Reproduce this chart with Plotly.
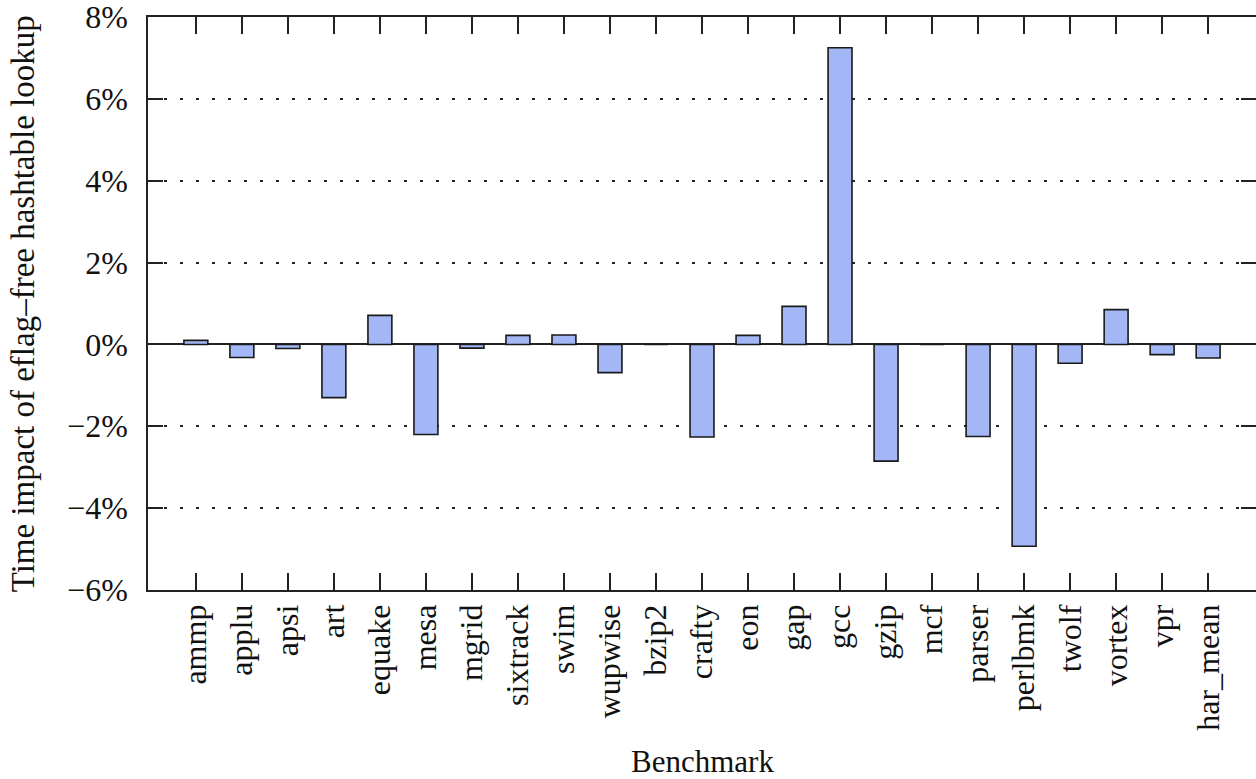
import plotly.graph_objects as go

# Benchmarks and their measured time impact (percent)
benchmarks = ["ammp", "applu", "apsi", "art", "equake", "mesa", "mgrid",
              "sixtrack", "swim", "wupwise", "bzip2", "crafty", "eon", "gap",
              "gcc", "gzip", "mcf", "parser", "perlbmk", "twolf", "vortex",
              "vpr", "har_mean"]
impact_pct = [0.10, -0.32, -0.10, -1.30, 0.71, -2.20, -0.09,
              0.22, 0.23, -0.69, 0.0, -2.26, 0.22, 0.93,
              7.25, -2.85, 0.0, -2.25, -4.93, -0.46, 0.85,
              -0.25, -0.33]
y_tick_values = [-6, -4, -2, 0, 2, 4, 6, 8]
y_tick_labels = ["\u22126%", "\u22124%", "\u22122%", "0%", "2%", "4%", "6%", "8%"]

FONT = "Liberation Serif, Times New Roman, serif"

fig = go.Figure(
    go.Bar(
        x=benchmarks,
        y=impact_pct,
        marker=dict(color="#a3b6f5", line=dict(color="#1a1a1a", width=1.6)),
    )
)

fig.update_layout(
    width=1256,
    height=779,
    margin=dict(l=148, r=0, t=17, b=189),
    paper_bgcolor="white",
    plot_bgcolor="white",
    bargap=0.48,
    showlegend=False,
    font=dict(family=FONT, color="#111111", size=32),
)

fig.update_xaxes(
    type="category",
    range=[-1.04, len(benchmarks) - 1 + 1.04],
    showline=True, linecolor="#222222", linewidth=1.6, mirror="ticks",
    ticks="inside", ticklen=17, tickwidth=1.6, tickcolor="#222222",
    tickangle=-90, tickfont=dict(family=FONT, size=32, color="#111111"),
    showgrid=False, automargin=False, ticklabeloverflow="allow",
)

fig.update_yaxes(
    range=[-6, 8],
    tickvals=y_tick_values, ticktext=y_tick_labels,
    showline=True, linecolor="#222222", linewidth=1.6, mirror="ticks",
    ticks="inside", ticklen=15, tickwidth=1.6, tickcolor="#222222",
    tickfont=dict(family=FONT, size=32, color="#111111"),
    ticklabelstandoff=12, ticklabeloverflow="allow",
    showgrid=True, gridcolor="#222222", gridwidth=2.2, griddash="3px,13px",
    zeroline=True, zerolinecolor="#222222", zerolinewidth=1.6,
    automargin=False,
)

# Axis titles
fig.add_annotation(
    text="Benchmark", xref="paper", yref="paper", x=0.5, y=-0.300,
    xanchor="center", yanchor="middle", showarrow=False,
    font=dict(family=FONT, size=31, color="#111111"),
)
fig.add_annotation(
    text="Time impact of eflag\u2013free hashtable lookup",
    xref="paper", yref="paper", x=-0.113, y=0.5,
    xanchor="center", yanchor="middle", textangle=-90, showarrow=False,
    font=dict(family=FONT, size=33, color="#111111"),
)

fig.write_html("out.html")
